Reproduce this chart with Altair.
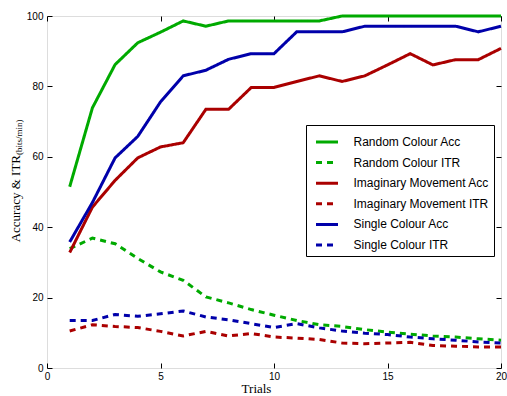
import altair as alt
import pandas as pd

trials = [1, 2, 3, 4, 5, 6, 7, 8, 9, 10, 11, 12, 13, 14, 15, 16, 17, 18, 19, 20]

rc_acc = [51.5, 73.9, 86.2, 92.4, 95.4, 98.6, 97.1, 98.6, 98.6, 98.6, 98.6, 98.6, 100, 100, 100, 100, 100, 100, 100, 100]
rc_itr = [33.9, 36.9, 35.3, 31.1, 27.3, 24.9, 20.2, 18.5, 16.6, 15.0, 13.5, 12.3, 11.8, 10.9, 10.2, 9.6, 9.1, 8.8, 8.3, 7.9]
im_acc = [32.8, 45.7, 53.3, 59.7, 62.8, 64.0, 73.5, 73.5, 79.7, 79.7, 81.4, 83.0, 81.4, 83.0, 86.1, 89.3, 86.1, 87.6, 87.6, 90.8]
im_itr = [10.5, 12.3, 11.8, 11.5, 10.4, 9.1, 10.4, 9.1, 9.8, 8.8, 8.5, 8.1, 7.1, 6.9, 7.1, 7.3, 6.4, 6.2, 6.0, 6.0]
sc_acc = [35.8, 47.0, 59.7, 65.8, 75.6, 83.0, 84.6, 87.7, 89.3, 89.3, 95.5, 95.5, 95.5, 97.1, 97.1, 97.1, 97.1, 97.1, 95.5, 97.1]
sc_itr = [13.5, 13.5, 15.2, 14.7, 15.4, 16.2, 14.5, 13.7, 12.6, 11.5, 12.6, 11.4, 10.5, 9.9, 9.5, 8.8, 8.3, 7.9, 7.4, 7.1]

names = ["Random Colour Acc", "Random Colour ITR", "Imaginary Movement Acc",
         "Imaginary Movement ITR", "Single Colour Acc", "Single Colour ITR"]
series_values = [rc_acc, rc_itr, im_acc, im_itr, sc_acc, sc_itr]
colors = ["#00aa00", "#00aa00", "#aa0000", "#aa0000", "#0000aa", "#0000aa"]
dashes = [[1, 0], [6, 5], [1, 0], [6, 5], [1, 0], [6, 5]]

x_ticks = [0, 5, 10, 15, 20]
y_ticks = [0, 20, 40, 60, 80, 100]
x_title = "Trials"
y_title_main = ["Accuracy & ITR"]
y_title_sub = ["(bits/min)"]

rows = []
for i, (name, vals) in enumerate(zip(names, series_values)):
    for t, v in zip(trials, vals):
        rows.append({"trial": t, "value": v, "series": name, "order": i})
df = pd.DataFrame(rows)

xscale = alt.Scale(domain=[0, 20], nice=False)
yscale = alt.Scale(domain=[0, 100], nice=False)

legend = alt.Legend(
    title=None, orient="none", legendX=259, legendY=109,
    fillColor="white", strokeColor="black", padding=4.5,
    symbolType="stroke", symbolSize=484, symbolStrokeWidth=3, symbolOffset=4,
    labelFont="Liberation Sans", labelFontSize=12, labelColor="black",
    labelOffset=14, rowPadding=1.6, labelLimit=300,
)

base = alt.Chart(df)

lines = base.mark_line(strokeWidth=3).encode(
    x=alt.X("trial:Q", scale=xscale, axis=alt.Axis(
        orient="bottom", values=x_ticks, offset=-5, tickSize=5, domain=False,
        labelPadding=3, labelFlush=False, labelFont="Liberation Sans", labelFontSize=10,
        labelColor="black", tickColor="black", grid=False,
        title=x_title, titleFont="Liberation Serif", titleFontSize=13, titleFontWeight="normal",
        titleColor="black", titleX=209, titleY=29, titleBaseline="alphabetic", titleAlign="center")),
    y=alt.Y("value:Q", scale=yscale, axis=alt.Axis(
        orient="left", values=y_ticks, offset=-5, tickSize=5, domain=False,
        labelPadding=4, labelFont="Liberation Sans", labelFontSize=10, labelFlush=False,
        labelColor="black", tickColor="black", grid=False, title=None)),
    color=alt.Color("series:N", scale=alt.Scale(domain=names, range=colors), legend=legend),
    strokeDash=alt.StrokeDash("series:N", scale=alt.Scale(domain=names, range=dashes), legend=legend),
    order="order:Q",
)

ghost = base.mark_line(opacity=0).encode(
    x=alt.X("trial:Q", scale=xscale, axis=alt.Axis(
        orient="top", values=x_ticks, offset=-5, tickSize=5, domain=False,
        labels=False, tickColor="black", grid=False, title=None)),
    y=alt.Y("value:Q", scale=yscale, axis=alt.Axis(
        orient="right", values=y_ticks, offset=-5, tickSize=5, domain=False,
        labels=False, tickColor="black", grid=False, title=None)),
    detail="series:N",
)

ytitle = alt.Chart(pd.DataFrame({"t": y_title_main})).mark_text(
    angle=270, align="right", baseline="alphabetic", font="Liberation Serif",
    fontSize=13, color="black",
).encode(text="t:N", x=alt.value(-27.5), y=alt.value(139))

ysub = alt.Chart(pd.DataFrame({"t": y_title_sub})).mark_text(
    angle=270, align="left", baseline="alphabetic", font="Liberation Serif",
    fontSize=9, color="black",
).encode(text="t:N", x=alt.value(-25.5), y=alt.value(139))

chart = alt.layer(lines, ghost, ytitle, ysub).resolve_axis(
    x="independent", y="independent"
).properties(
    width=454, height=352,
    autosize=alt.AutoSizeParams(type="none"),
    padding={"left": 47, "top": 16, "right": 6, "bottom": 28},
).configure_view(stroke="black", strokeWidth=1).configure(background="white")

chart.save("out.html", embed_options={"renderer": "svg", "actions": False})
